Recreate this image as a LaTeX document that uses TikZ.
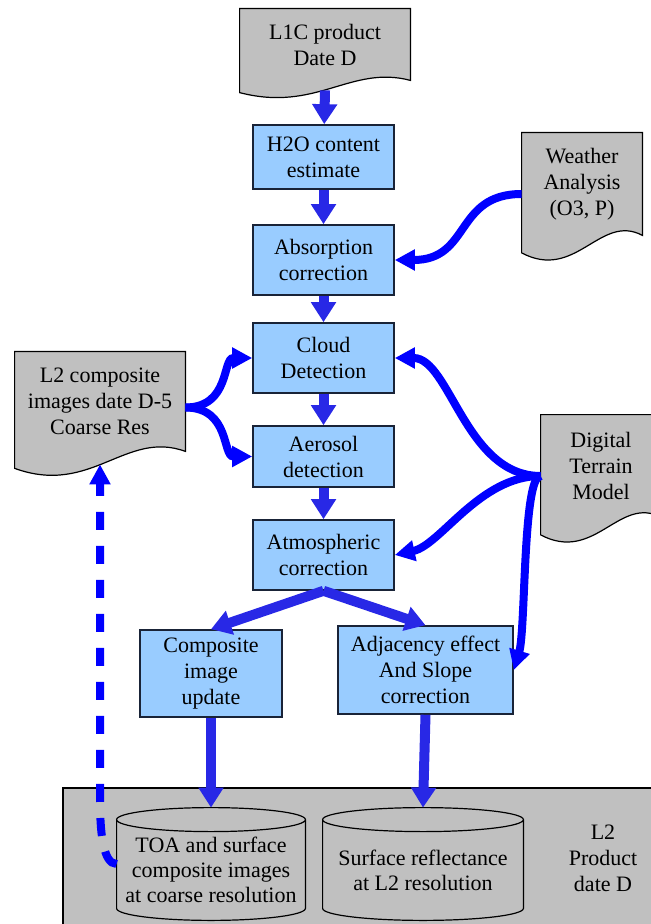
\documentclass[tikz,border=0pt]{standalone}
\usepackage{fontspec}
\setmainfont{Liberation Serif}
\usepackage{tikz}
\usetikzlibrary{arrows.meta,calc,backgrounds}
\definecolor{azulCaixa}{RGB}{153,204,255}
\definecolor{bordaCaixa}{RGB}{25,35,55}
\definecolor{cinzaDoc}{RGB}{192,192,192}
\definecolor{azulSeta}{RGB}{0,0,255}
\definecolor{azulReta}{RGB}{40,40,230}
\tikzset{
  bloco/.style={rectangle, draw=bordaCaixa, line width=0.8pt, fill=azulCaixa,
                minimum width=70.5pt, minimum height=35pt, inner sep=0pt,
                align=center, font=\fontsize{11}{13}\selectfont},
  documento/.style={rectangle, inner sep=0pt, align=center,
                    font=\fontsize{11}{13}\selectfont},
  cilindro/.style={rectangle, inner sep=0pt, align=center, minimum height=50pt,
                   font=\fontsize{11}{12.5}\selectfont},
  formacinza/.style={fill=cinzaDoc, draw=black, line width=0.6pt},
  seta/.style={-{Triangle[length=10pt, width=12pt]}, line width=5pt, azulReta},
  setacurva/.style={-{Triangle[length=10pt, width=10pt]}, line width=4pt, azulSeta},
  setavolta/.style={-{Triangle[length=10pt, width=10pt]}, line width=4pt, azulSeta,
                    dash pattern=on 9pt off 8pt},
}
% folha com borda inferior ondulada
\newcommand{\docforma}[1]{%
  \path[formacinza] let \p1=(#1.south west), \p2=(#1.north east),
    \n1={\x2-\x1}, \n2={\y2-\y1} in
    (\x1,\y2) -- (\x2,\y2) -- (\x2,\y1)
    .. controls ({\x1+0.65*\n1},{\y1+0.22*\n2}) and ({\x1+0.45*\n1},{\y1-0.45*\n2}) ..
    (\x1,{\y1-0.17*\n2}) -- cycle;}
% cilindro de armazenamento (tampa centrada no topo do no)
\newcommand{\cilforma}[1]{%
  \path[formacinza] let \p1=(#1.south west), \p2=(#1.north east),
    \n1={(\x2-\x1)/2}, \n2={6pt} in
    (\x1,\y2) -- (\x1,{\y1+\n2})
    arc[start angle=180, end angle=360, x radius=\n1, y radius=\n2]
    -- (\x2,\y2)
    arc[start angle=0, end angle=180, x radius=\n1, y radius=\n2] -- cycle
    ({\x1+\n1},\y2) ellipse[x radius=\n1, y radius=\n2];}
\begin{document}
\begin{tikzpicture}[x=0.5pt, y=-0.5pt]
  \useasboundingbox (0,0) rectangle (651,924);
  \clip (0,0) rectangle (651,924);
  % entradas
  \node[documento, minimum width=85pt, minimum height=35.5pt] (l1c) at (325,44.5) {L1C product\\Date D};
  \node[documento, minimum width=60pt, minimum height=51pt] (weather) at (582,184) {Weather\\Analysis\\(O3, P)};
  \node[documento, minimum width=85pt, minimum height=49.5pt] (l2comp) at (100,401.5) {L2 composite\\images date D-5\\Coarse Res};
  \node[documento, minimum width=60pt, minimum height=51pt] (dtm) at (601,466) {Digital\\Terrain\\Model};
  % cadeia de processamento
  \node[bloco, minimum height=32pt] (h2o) at (323.5,157) {H2O content\\estimate};
  \node[bloco] (absorp) at (323.5,260) {Absorption\\correction};
  \node[bloco] (cloud) at (323.5,358) {Cloud\\Detection};
  \node[bloco, minimum height=30.5pt] (aerosol) at (323.5,456.5) {Aerosol\\detection};
  \node[bloco] (atmos) at (323.5,555) {Atmospheric\\correction};
  \node[bloco, minimum width=71pt, minimum height=43.5pt] (compos) at (211,673.5) {Composite\\image\\update};
  \node[bloco, minimum width=87.5pt, minimum height=44pt] (adjac) at (425.5,670) {Adjacency effect\\And Slope\\correction};
  % produto L2
  \node[cilindro, minimum width=94pt] (toa) at (211,870) {TOA and surface\\composite images\\at coarse resolution};
  \node[cilindro, minimum width=100pt] (surf) at (423,870) {Surface reflectance\\at L2 resolution};
  \node[documento] (l2prod) at (603,858) {L2\\Product\\date D};
  \begin{scope}[on background layer]
    \path[formacinza] (63,788) rectangle (700,950);
    \docforma{l1c} \docforma{weather} \docforma{l2comp} \docforma{dtm}
    \cilforma{toa} \cilforma{surf}
  \end{scope}
  % setas
  \draw[seta] ([yshift=-5pt]l1c.south) -- (h2o);
  \draw[seta] (h2o) -- (absorp); \draw[seta] (absorp) -- (cloud);
  \draw[seta] (cloud) -- (aerosol); \draw[seta] (aerosol) -- (atmos);
  \draw[seta] (atmos.south) -- (compos.north); \draw[seta] (atmos.south) -- (adjac.north);
  \draw[seta] (compos.south) -- ([yshift=6pt]toa.north); \draw[seta] (adjac.south) -- ([yshift=6pt]surf.north);
  \draw[setacurva] ([yshift=-5pt]weather.west) .. controls +(-67,0) and +(76,0) .. (absorp.east);
  \draw[setacurva] ([yshift=-3pt]l2comp.east) .. controls +(45,0) and +(-30,0) .. (cloud.west);
  \draw[setacurva] ([yshift=-3pt]l2comp.east) .. controls +(45,0) and +(-30,0) .. (aerosol.west);
  \draw[setacurva] ([yshift=-5pt]dtm.west) .. controls +(-75,0) and +(55,0) .. (cloud.east);
  \draw[setacurva] ([yshift=-5pt]dtm.west) .. controls +(-61,0) and +(46,-10) .. (atmos.east);
  \draw[setacurva] ([yshift=-5pt]dtm.west) .. controls +(-18,0) and +(12,-40) .. (adjac.east);
  \coordinate (codo) at (100,800);
  \draw[setavolta] ([yshift=3pt]toa.west) .. controls +(-14,0) and +(0,30) .. (codo) -- ([yshift=-6.5pt]l2comp.south);
\end{tikzpicture}
\end{document}
